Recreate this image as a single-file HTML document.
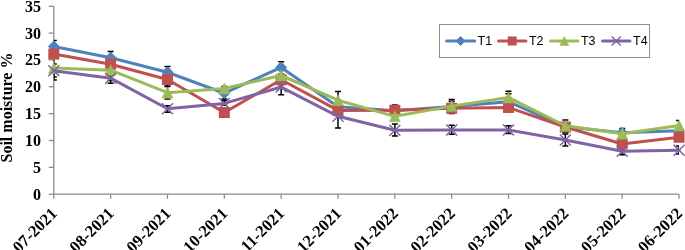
<!DOCTYPE html><html><head><meta charset="utf-8"><title>Soil moisture chart</title><style>
html,body{margin:0;padding:0;background:#fff;}
text{filter:grayscale(1);}
body{width:685px;height:250px;overflow:hidden;position:relative;}
.yl{font-family:"Liberation Serif",serif;font-weight:bold;font-size:16px;fill:#000;}
.xl{font-family:"Liberation Serif",serif;font-weight:bold;font-size:16.5px;fill:#000;}
.yt{font-family:"Liberation Serif",serif;font-weight:bold;font-size:16px;fill:#000;}
.lg{font-family:"Liberation Sans",sans-serif;font-size:12.5px;fill:#000;}
</style></head><body><svg width="685" height="250" viewBox="0 0 685 250" style="position:absolute;left:0;top:0">
<g stroke="#8c8c8c" stroke-width="1.3" fill="none">
<path d="M53.8 6.21V194.2H679.04"/>
<path d="M48.8 194.2H53.8"/>
<path d="M48.8 167.34H53.8"/>
<path d="M48.8 140.49H53.8"/>
<path d="M48.8 113.63H53.8"/>
<path d="M48.8 86.78H53.8"/>
<path d="M48.8 59.92H53.8"/>
<path d="M48.8 33.07H53.8"/>
<path d="M48.8 6.21H53.8"/>
<path d="M53.8 194.2V198.8"/>
<path d="M110.64 194.2V198.8"/>
<path d="M167.48 194.2V198.8"/>
<path d="M224.32 194.2V198.8"/>
<path d="M281.16 194.2V198.8"/>
<path d="M338 194.2V198.8"/>
<path d="M394.84 194.2V198.8"/>
<path d="M451.68 194.2V198.8"/>
<path d="M508.52 194.2V198.8"/>
<path d="M565.36 194.2V198.8"/>
<path d="M622.2 194.2V198.8"/>
<path d="M679.04 194.2V198.8"/>
</g>
<text x="41" y="194.2" text-anchor="end" dominant-baseline="central" class="yl">0</text>
<text x="41" y="167.34" text-anchor="end" dominant-baseline="central" class="yl">5</text>
<text x="41" y="140.49" text-anchor="end" dominant-baseline="central" class="yl">10</text>
<text x="41" y="113.63" text-anchor="end" dominant-baseline="central" class="yl">15</text>
<text x="41" y="86.78" text-anchor="end" dominant-baseline="central" class="yl">20</text>
<text x="41" y="59.92" text-anchor="end" dominant-baseline="central" class="yl">25</text>
<text x="41" y="33.07" text-anchor="end" dominant-baseline="central" class="yl">30</text>
<text x="41" y="6.21" text-anchor="end" dominant-baseline="central" class="yl">35</text>
<text transform="translate(12,107.5) rotate(-90)" text-anchor="middle" class="yt">Soil moisture %</text>
<text transform="translate(58.1,214.5) rotate(-45)" text-anchor="end" class="xl">07-2021</text>
<text transform="translate(114.94,214.5) rotate(-45)" text-anchor="end" class="xl">08-2021</text>
<text transform="translate(171.78,214.5) rotate(-45)" text-anchor="end" class="xl">09-2021</text>
<text transform="translate(228.62,214.5) rotate(-45)" text-anchor="end" class="xl">10-2021</text>
<text transform="translate(285.46,214.5) rotate(-45)" text-anchor="end" class="xl">11-2021</text>
<text transform="translate(342.3,214.5) rotate(-45)" text-anchor="end" class="xl">12-2021</text>
<text transform="translate(399.14,214.5) rotate(-45)" text-anchor="end" class="xl">01-2022</text>
<text transform="translate(455.98,214.5) rotate(-45)" text-anchor="end" class="xl">02-2022</text>
<text transform="translate(512.82,214.5) rotate(-45)" text-anchor="end" class="xl">03-2022</text>
<text transform="translate(569.66,214.5) rotate(-45)" text-anchor="end" class="xl">04-2022</text>
<text transform="translate(626.5,214.5) rotate(-45)" text-anchor="end" class="xl">05-2022</text>
<text transform="translate(683.34,214.5) rotate(-45)" text-anchor="end" class="xl">06-2022</text>
<clipPath id="pc"><rect x="53.8" y="0" width="625.24" height="194.2"/></clipPath>
<g stroke="#000" stroke-width="1.5" fill="none" clip-path="url(#pc)">
<path d="M53.8 40.5V52.7M50.8 40.5H56.8M50.8 52.7H56.8"/>
<path d="M53.8 64.1V77.1M50.8 64.1H56.8M50.8 77.1H56.8"/>
<path d="M53.8 55.9V80.1M50.8 55.9H56.8M50.8 80.1H56.8"/>
<path d="M110.64 51.6V64.2M107.64 51.6H113.64M107.64 64.2H113.64"/>
<path d="M110.64 75.6V80.6M107.64 75.6H113.64M107.64 80.6H113.64"/>
<path d="M110.64 57V83.3M107.64 57H113.64M107.64 83.3H113.64"/>
<path d="M167.48 66.5V78.5M164.48 66.5H170.48M164.48 78.5H170.48"/>
<path d="M167.48 73.1V86.1M164.48 73.1H170.48M164.48 86.1H170.48"/>
<path d="M167.48 86.5V98.9M164.48 86.5H170.48M164.48 98.9H170.48"/>
<path d="M167.48 105.7V112.3M164.48 105.7H170.48M164.48 112.3H170.48"/>
<path d="M224.32 86.6V100.6M221.32 86.6H227.32M221.32 100.6H227.32"/>
<path d="M224.32 99V105.2M221.32 99H227.32M221.32 105.2H227.32"/>
<path d="M281.16 61.7V74M278.16 61.7H284.16M278.16 74H284.16"/>
<path d="M281.16 76.2V94.8M278.16 76.2H284.16M278.16 94.8H284.16"/>
<path d="M338 91.6V108.4M335 91.6H341M335 108.4H341"/>
<path d="M338 100.5V127.9M335 100.5H341M335 127.9H341"/>
<path d="M394.84 104.9V115M391.84 104.9H397.84M391.84 115H397.84"/>
<path d="M394.84 124V136M391.84 124H397.84M391.84 136H397.84"/>
<path d="M451.68 99.5V113.5M448.68 99.5H454.68M448.68 113.5H454.68"/>
<path d="M451.68 101.3V111M448.68 101.3H454.68M448.68 111H454.68"/>
<path d="M451.68 125.2V134.3M448.68 125.2H454.68M448.68 134.3H454.68"/>
<path d="M508.52 91.2V103M505.52 91.2H511.52M505.52 103H511.52"/>
<path d="M508.52 93.8V102M505.52 93.8H511.52M505.52 102H511.52"/>
<path d="M508.52 125.7V133.4M505.52 125.7H511.52M505.52 133.4H511.52"/>
<path d="M565.36 120V132.5M562.36 120H568.36M562.36 132.5H568.36"/>
<path d="M565.36 134V145.9M562.36 134H568.36M562.36 145.9H568.36"/>
<path d="M622.2 128.4V138M619.2 128.4H625.2M619.2 138H625.2"/>
<path d="M622.2 147V154.7M619.2 147H625.2M619.2 154.7H625.2"/>
<path d="M679.04 120.4V131M676.04 120.4H682.04M676.04 131H682.04"/>
<path d="M679.04 146V154M676.04 146H682.04M676.04 154H682.04"/>
</g>
<polyline points="53.8,46.5 110.64,57.78 167.48,72.28 224.32,93.23 281.16,67.44 338,106.65 394.84,110.68 451.68,106.38 508.52,101.82 565.36,126.79 622.2,132.7 679.04,130.82" fill="none" stroke="#4F81BD" stroke-width="3.0" stroke-linejoin="round" stroke-linecap="round"/>
<path d="M53.8 41L59.3 46.5L53.8 52L48.3 46.5Z" fill="#4F81BD" stroke="#4F81BD" stroke-width="1"/>
<path d="M110.64 52.28L116.14 57.78L110.64 63.28L105.14 57.78Z" fill="#4F81BD" stroke="#4F81BD" stroke-width="1"/>
<path d="M167.48 66.78L172.98 72.28L167.48 77.78L161.98 72.28Z" fill="#4F81BD" stroke="#4F81BD" stroke-width="1"/>
<path d="M224.32 87.73L229.82 93.23L224.32 98.73L218.82 93.23Z" fill="#4F81BD" stroke="#4F81BD" stroke-width="1"/>
<path d="M281.16 61.94L286.66 67.44L281.16 72.94L275.66 67.44Z" fill="#4F81BD" stroke="#4F81BD" stroke-width="1"/>
<path d="M338 101.15L343.5 106.65L338 112.15L332.5 106.65Z" fill="#4F81BD" stroke="#4F81BD" stroke-width="1"/>
<path d="M394.84 105.18L400.34 110.68L394.84 116.18L389.34 110.68Z" fill="#4F81BD" stroke="#4F81BD" stroke-width="1"/>
<path d="M451.68 100.88L457.18 106.38L451.68 111.88L446.18 106.38Z" fill="#4F81BD" stroke="#4F81BD" stroke-width="1"/>
<path d="M508.52 96.32L514.02 101.82L508.52 107.32L503.02 101.82Z" fill="#4F81BD" stroke="#4F81BD" stroke-width="1"/>
<path d="M565.36 121.29L570.86 126.79L565.36 132.29L559.86 126.79Z" fill="#4F81BD" stroke="#4F81BD" stroke-width="1"/>
<path d="M622.2 127.2L627.7 132.7L622.2 138.2L616.7 132.7Z" fill="#4F81BD" stroke="#4F81BD" stroke-width="1"/>
<path d="M679.04 125.32L684.54 130.82L679.04 136.32L673.54 130.82Z" fill="#4F81BD" stroke="#4F81BD" stroke-width="1"/>
<polyline points="53.8,54.02 110.64,64.22 167.48,79.53 224.32,112.56 281.16,79.8 338,110.41 394.84,110.3 451.68,108.26 508.52,107.46 565.36,127.06 622.2,143.98 679.04,137.27" fill="none" stroke="#C0504D" stroke-width="3.0" stroke-linejoin="round" stroke-linecap="round"/>
<rect x="48.3" y="48.52" width="11" height="11" fill="#C0504D"/>
<rect x="105.14" y="58.72" width="11" height="11" fill="#C0504D"/>
<rect x="161.98" y="74.03" width="11" height="11" fill="#C0504D"/>
<rect x="218.82" y="107.06" width="11" height="11" fill="#C0504D"/>
<rect x="275.66" y="74.3" width="11" height="11" fill="#C0504D"/>
<rect x="332.5" y="104.91" width="11" height="11" fill="#C0504D"/>
<rect x="389.34" y="104.8" width="11" height="11" fill="#C0504D"/>
<rect x="446.18" y="102.76" width="11" height="11" fill="#C0504D"/>
<rect x="503.02" y="101.96" width="11" height="11" fill="#C0504D"/>
<rect x="559.86" y="121.56" width="11" height="11" fill="#C0504D"/>
<rect x="616.7" y="138.48" width="11" height="11" fill="#C0504D"/>
<rect x="673.54" y="131.77" width="11" height="11" fill="#C0504D"/>
<polyline points="53.8,67.98 110.64,70.13 167.48,92.69 224.32,88.39 281.16,75.5 338,100.21 394.84,116.32 451.68,106.12 508.52,97.52 565.36,125.72 622.2,133.78 679.04,125.45" fill="none" stroke="#9BBB59" stroke-width="3.0" stroke-linejoin="round" stroke-linecap="round"/>
<path d="M53.8 62.48L59.3 73.48L48.3 73.48Z" fill="#9BBB59" stroke="#9BBB59" stroke-width="0.5"/>
<path d="M110.64 64.63L116.14 75.63L105.14 75.63Z" fill="#9BBB59" stroke="#9BBB59" stroke-width="0.5"/>
<path d="M167.48 87.19L172.98 98.19L161.98 98.19Z" fill="#9BBB59" stroke="#9BBB59" stroke-width="0.5"/>
<path d="M224.32 82.89L229.82 93.89L218.82 93.89Z" fill="#9BBB59" stroke="#9BBB59" stroke-width="0.5"/>
<path d="M281.16 70L286.66 81L275.66 81Z" fill="#9BBB59" stroke="#9BBB59" stroke-width="0.5"/>
<path d="M338 94.71L343.5 105.71L332.5 105.71Z" fill="#9BBB59" stroke="#9BBB59" stroke-width="0.5"/>
<path d="M394.84 110.82L400.34 121.82L389.34 121.82Z" fill="#9BBB59" stroke="#9BBB59" stroke-width="0.5"/>
<path d="M451.68 100.62L457.18 111.62L446.18 111.62Z" fill="#9BBB59" stroke="#9BBB59" stroke-width="0.5"/>
<path d="M508.52 92.02L514.02 103.02L503.02 103.02Z" fill="#9BBB59" stroke="#9BBB59" stroke-width="0.5"/>
<path d="M565.36 120.22L570.86 131.22L559.86 131.22Z" fill="#9BBB59" stroke="#9BBB59" stroke-width="0.5"/>
<path d="M622.2 128.28L627.7 139.28L616.7 139.28Z" fill="#9BBB59" stroke="#9BBB59" stroke-width="0.5"/>
<path d="M679.04 119.95L684.54 130.95L673.54 130.95Z" fill="#9BBB59" stroke="#9BBB59" stroke-width="0.5"/>
<polyline points="53.8,70.67 110.64,78.19 167.48,108.8 224.32,103.43 281.16,87.05 338,116.32 394.84,130.29 451.68,130.02 508.52,130.02 565.36,139.95 622.2,151.23 679.04,150.16" fill="none" stroke="#8064A2" stroke-width="3.0" stroke-linejoin="round" stroke-linecap="round"/>
<path d="M48.3 65.17L59.3 76.17M59.3 65.17L48.3 76.17" stroke="#8064A2" stroke-width="1.5" fill="none"/>
<path d="M105.14 72.69L116.14 83.69M116.14 72.69L105.14 83.69" stroke="#8064A2" stroke-width="1.5" fill="none"/>
<path d="M161.98 103.3L172.98 114.3M172.98 103.3L161.98 114.3" stroke="#8064A2" stroke-width="1.5" fill="none"/>
<path d="M218.82 97.93L229.82 108.93M229.82 97.93L218.82 108.93" stroke="#8064A2" stroke-width="1.5" fill="none"/>
<path d="M275.66 81.55L286.66 92.55M286.66 81.55L275.66 92.55" stroke="#8064A2" stroke-width="1.5" fill="none"/>
<path d="M332.5 110.82L343.5 121.82M343.5 110.82L332.5 121.82" stroke="#8064A2" stroke-width="1.5" fill="none"/>
<path d="M389.34 124.79L400.34 135.79M400.34 124.79L389.34 135.79" stroke="#8064A2" stroke-width="1.5" fill="none"/>
<path d="M446.18 124.52L457.18 135.52M457.18 124.52L446.18 135.52" stroke="#8064A2" stroke-width="1.5" fill="none"/>
<path d="M503.02 124.52L514.02 135.52M514.02 124.52L503.02 135.52" stroke="#8064A2" stroke-width="1.5" fill="none"/>
<path d="M559.86 134.45L570.86 145.45M570.86 134.45L559.86 145.45" stroke="#8064A2" stroke-width="1.5" fill="none"/>
<path d="M616.7 145.73L627.7 156.73M627.7 145.73L616.7 156.73" stroke="#8064A2" stroke-width="1.5" fill="none"/>
<path d="M673.54 144.66L684.54 155.66M684.54 144.66L673.54 155.66" stroke="#8064A2" stroke-width="1.5" fill="none"/>
<rect x="439.5" y="24.5" width="210.0" height="33.0" fill="#fff" stroke="#8c8c8c" stroke-width="1"/>
<path d="M446.6 41H474.6" stroke="#4F81BD" stroke-width="3.0" stroke-linecap="round"/>
<path d="M460.6 36.5L465.1 41L460.6 45.5L456.1 41Z" fill="#4F81BD" stroke="#4F81BD" stroke-width="1"/>
<text x="477.6" y="45.4" class="lg">T1</text>
<path d="M498.5 41H525.9" stroke="#C0504D" stroke-width="3.0" stroke-linecap="round"/>
<rect x="507.7" y="36.5" width="9" height="9" fill="#C0504D"/>
<text x="528.9" y="45.4" class="lg">T2</text>
<path d="M550.6 41H577.9" stroke="#9BBB59" stroke-width="3.0" stroke-linecap="round"/>
<path d="M564.25 36.5L568.75 45.5L559.75 45.5Z" fill="#9BBB59" stroke="#9BBB59" stroke-width="0.5"/>
<text x="580.9" y="45.4" class="lg">T3</text>
<path d="M602.5 41H630" stroke="#8064A2" stroke-width="3.0" stroke-linecap="round"/>
<path d="M611.75 36.5L620.75 45.5M620.75 36.5L611.75 45.5" stroke="#8064A2" stroke-width="1.5" fill="none"/>
<text x="633" y="45.4" class="lg">T4</text>
</svg></body></html>
